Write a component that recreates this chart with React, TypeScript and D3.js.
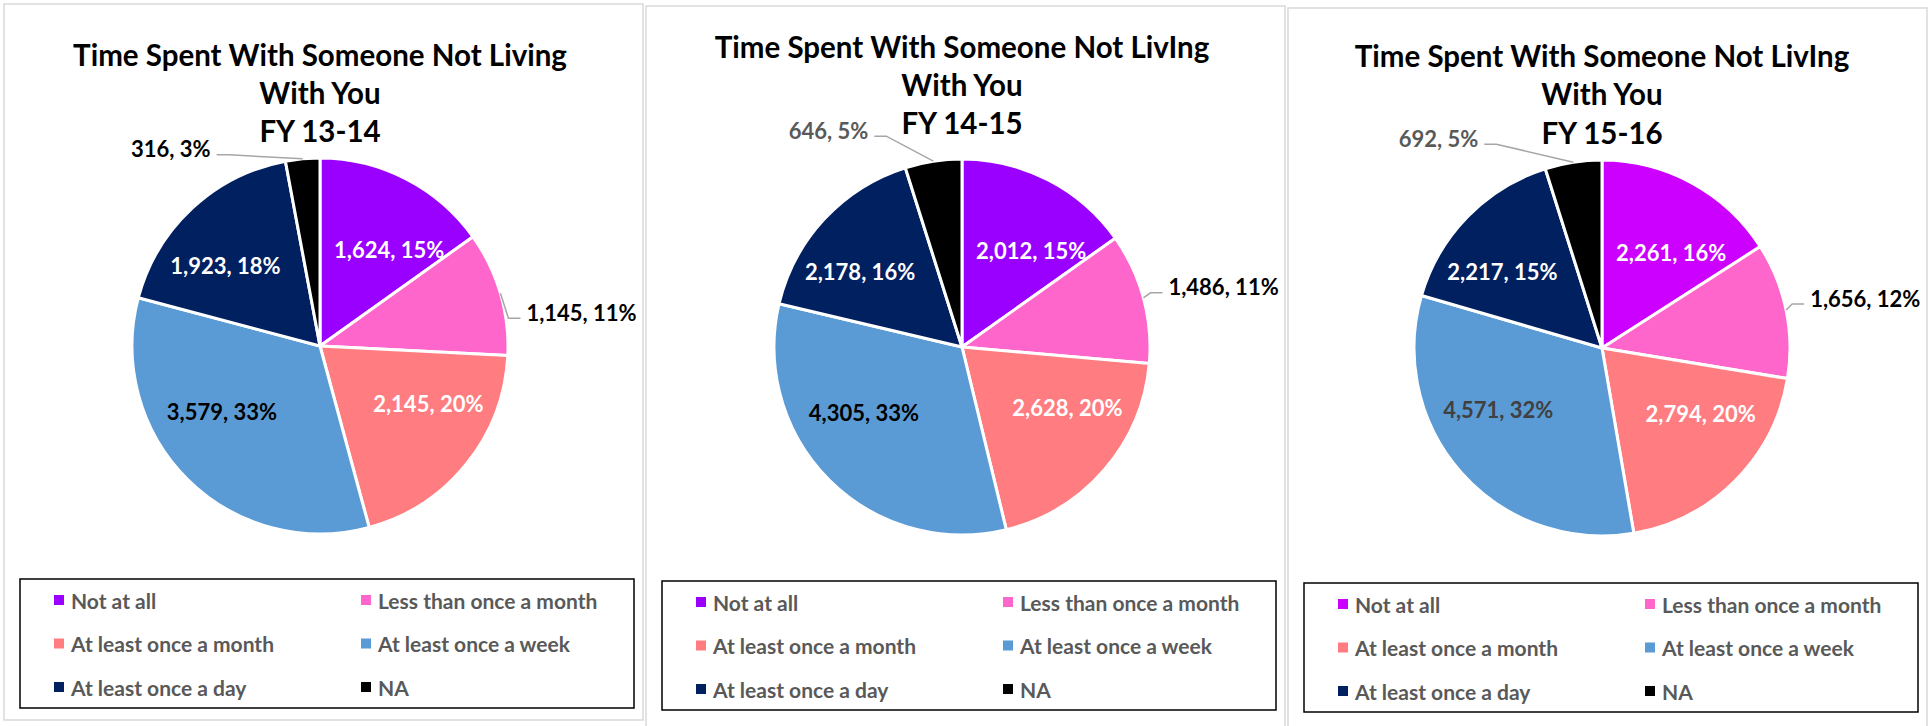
import React from "react";
import * as d3 from "d3";

// categories, in the order Excel draws them (clockwise from 12 o'clock)
const categories = [
  "Not at all",
  "Less than once a month",
  "At least once a month",
  "At least once a week",
  "At least once a day",
  "NA",
];

// counts per fiscal year
const fy1314 = [1624, 1145, 2145, 3579, 1923, 316];
const fy1415 = [2012, 1486, 2628, 4305, 2178, 646];
const fy1516 = [2261, 1656, 2794, 4571, 2217, 692];

// percentages as printed on the labels
const pct1314 = [15, 11, 20, 33, 18, 3];
const pct1415 = [15, 11, 20, 33, 16, 5];
const pct1516 = [16, 12, 20, 32, 15, 5];

const title1314 = ["Time Spent With Someone Not Living", "With You", "FY 13-14"];
const title1415 = ["Time Spent With Someone Not LivIng", "With You", "FY 14-15"];
const title1516 = ["Time Spent With Someone Not LivIng", "With You", "FY 15-16"];

const colorsA = ["#9900FF", "#FF66CC", "#FF7C80", "#5B9BD5", "#002060", "#000000"];
const colorsB = ["#CC00FF", "#FF66CC", "#FF7C80", "#5B9BD5", "#002060", "#000000"];

const FONT = "Lato, 'Open Sans', sans-serif";
const W = 1931;
const H = 726;
const R = 188;

// layout per panel (positions and label styles, not data)
const panels = [
  {
    title: title1314, values: fy1314, pcts: pct1314, colors: colorsA,
    x0: 4, x1: 643, y0: 4, y1: 720, cx: 320, cy: 346, titleY: [54, 92, 130], legendTop: 579,
    labelColors: ["#fff", "#000", "#fff", "#000", "#fff", "#000"],
    outside: { 1: [8, 25], 5: [-74, -4] } as Record<number, number[]>,
  },
  {
    title: title1415, values: fy1415, pcts: pct1415, colors: colorsA,
    x0: 646, x1: 1285, y0: 6, y1: 730, cx: 962, cy: 347, titleY: [46, 84, 122], legendTop: 581,
    labelColors: ["#fff", "#000", "#fff", "#000", "#fff", "#595959"],
    outside: { 1: [7, -5], 5: [-47, -25] } as Record<number, number[]>,
  },
  {
    title: title1516, values: fy1516, pcts: pct1516, colors: colorsB,
    x0: 1288, x1: 1927, y0: 8, y1: 730, cx: 1602, cy: 348, titleY: [55, 93, 132], legendTop: 583,
    labelColors: ["#fff", "#000", "#fff", "#404040", "#fff", "#595959"],
    outside: { 1: [6, -6], 5: [-77, -18] } as Record<number, number[]>,
  },
];

const fmt = d3.format(",");
const at = (a: number, r: number) => [r * Math.sin(a), -r * Math.cos(a)];

function Panel({ p }: { p: (typeof panels)[number] }) {
  const pie = d3.pie<number>().sort(null).value((d) => d);
  const arcs = pie(p.values);
  const arc = d3.arc<d3.PieArcDatum<number>>().innerRadius(0).outerRadius(R);
  const labelSize = 22;

  const lx = p.x0 + 16;
  const lw = 614;
  const lt = p.legendTop;

  return (
    <g>
      <rect x={p.x0} y={p.y0} width={p.x1 - p.x0} height={p.y1 - p.y0} fill="#fff" stroke="#D9D9D9" strokeWidth={1.5} />
      {p.title.map((t, i) => (
        <text key={i} x={p.cx} y={p.titleY[i]} textAnchor="middle" dominantBaseline="central"
          fontFamily={FONT} fontWeight={700} fontSize={29.5} fill="#000">{t}</text>
      ))}
      <g transform={`translate(${p.cx},${p.cy})`}>
        {arcs.map((a, i) => (
          <path key={i} d={arc(a) || ""} fill={p.colors[i]} stroke="#fff" strokeWidth={3} strokeLinejoin="round" />
        ))}
        {arcs.map((a, i) => {
          const mid = (a.startAngle + a.endAngle) / 2;
          const label = `${fmt(a.data)}, ${p.pcts[i]}%`;
          const off = p.outside[i];
          if (off) {
            const [ex, ey] = at(mid, R);
            const bx = ex + off[0];
            const by = ey + off[1];
            const dir = Math.sin(mid) >= 0 ? 1 : -1;
            const hx = bx + dir * 12;
            return (
              <g key={i}>
                <polyline points={`${ex},${ey} ${bx},${by} ${hx},${by}`} fill="none" stroke="#A6A6A6" strokeWidth={1.5} />
                <text x={hx + dir * 6} y={by - 6} textAnchor={dir > 0 ? "start" : "end"} dominantBaseline="central"
                  fontFamily={FONT} fontWeight={700} fontSize={labelSize} fill={p.labelColors[i]}>{label}</text>
              </g>
            );
          }
          // Excel "best fit": labels sit on a flattened ellipse inside the pie
          let x = Math.sin(mid) * R * 0.74;
          const y = -Math.cos(mid) * R * 0.54 - 6;
          const half = label.length * 0.26 * labelSize;
          if (a.startAngle === 0) x = Math.max(x, half + 12);
          return (
            <text key={i} x={x} y={y} textAnchor="middle" dominantBaseline="central"
              fontFamily={FONT} fontWeight={700} fontSize={labelSize} fill={p.labelColors[i]}>{label}</text>
          );
        })}
      </g>
      <rect x={lx} y={lt} width={lw} height={129} fill="#fff" stroke="#000" strokeWidth={1.5} />
      {categories.map((c, i) => {
        const col = i % 2;
        const row = Math.floor(i / 2);
        const sx = lx + (col === 0 ? 34 : 341);
        const sy = lt + 21 + row * 43.5;
        return (
          <g key={c}>
            <rect x={sx} y={sy - 5} width={10} height={10} fill={p.colors[i]} />
            <text x={sx + 17} y={sy} dominantBaseline="central" fontFamily={FONT} fontWeight={700}
              fontSize={21} fill="#595959">{c}</text>
          </g>
        );
      })}
    </g>
  );
}

export default function App() {
  return (
    <svg width={W} height={H} style={{ position: "absolute", left: 0, top: 0, background: "#fff" }}>
      {panels.map((p, i) => (
        <Panel key={i} p={p} />
      ))}
    </svg>
  );
}
